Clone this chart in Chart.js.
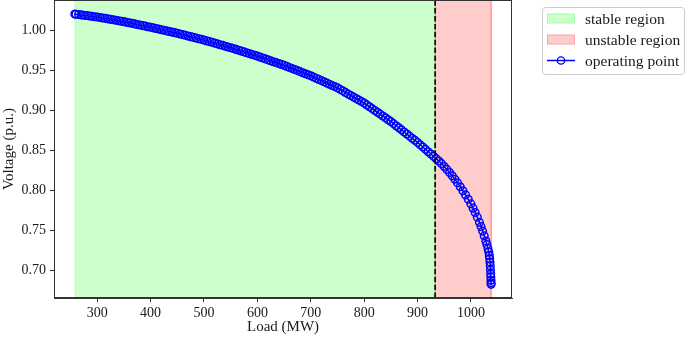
<!DOCTYPE html>
<html>
<head>
<meta charset="utf-8">
<script src="https://cdn.jsdelivr.net/npm/chart.js@4.4.1/dist/chart.umd.min.js"></script>
<style>
body { margin: 0; background: #fff; }
#wrap { width: 685px; height: 341px; }
</style>
</head>
<body>
<div id="wrap"><canvas id="myChart" width="685" height="341"></canvas></div>
<script>
// operating points (load in MW, voltage in p.u.)
const loads = [
  258, 260, 265, 270, 275, 280, 285, 290, 295, 300,
  305, 310, 315, 320, 325, 330, 335, 340, 345, 350,
  355, 360, 365, 370, 375, 380, 385, 390, 395, 400,
  405, 410, 415, 420, 425, 430, 435, 440, 445, 450,
  455, 460, 465, 470, 475, 480, 485, 490, 495, 500,
  505, 510, 515, 520, 525, 530, 535, 540, 545, 550,
  555, 560, 565, 570, 575, 580, 585, 590, 595, 600,
  605, 610, 615, 620, 625, 630, 635, 640, 645, 650,
  655, 660, 665, 670, 675, 680, 685, 690, 695, 700,
  705, 710, 715, 720, 725, 730, 735, 740, 745, 750,
  755, 760, 765, 770, 775, 780, 785, 790, 795, 800,
  805, 810, 815, 820, 825, 830, 835, 840, 845, 850,
  855, 860, 865, 870, 875, 880, 885, 890, 895, 900,
  905, 910, 915, 920, 925, 930, 935, 940, 945, 950,
  955, 960, 965, 970, 975, 980, 985, 990, 995, 1000,
  1004, 1008, 1012, 1016, 1019, 1022, 1025, 1028, 1030, 1032,
  1033.5, 1034.5, 1035.2, 1035.8, 1036.3, 1036.7, 1037.1, 1037.4, 1037.6, 1037.8,
  1037.9
];
const voltages = [
  1.0200, 1.0198, 1.0194, 1.0189, 1.0185, 1.0181, 1.0176, 1.0172, 1.0167, 1.0163,
  1.0157, 1.0151, 1.0146, 1.0140, 1.0134, 1.0128, 1.0122, 1.0117, 1.0111, 1.0105,
  1.0098, 1.0091, 1.0084, 1.0077, 1.0070, 1.0063, 1.0056, 1.0049, 1.0042, 1.0035,
  1.0028, 1.0020, 1.0013, 1.0005, 0.9998, 0.9990, 0.9983, 0.9975, 0.9968, 0.9960,
  0.9952, 0.9943, 0.9935, 0.9926, 0.9918, 0.9909, 0.9901, 0.9892, 0.9884, 0.9875,
  0.9866, 0.9856, 0.9847, 0.9837, 0.9828, 0.9818, 0.9809, 0.9799, 0.9790, 0.9780,
  0.9770, 0.9759, 0.9749, 0.9738, 0.9728, 0.9717, 0.9707, 0.9696, 0.9686, 0.9675,
  0.9664, 0.9652, 0.9641, 0.9629, 0.9618, 0.9606, 0.9595, 0.9583, 0.9572, 0.9560,
  0.9547, 0.9534, 0.9521, 0.9508, 0.9495, 0.9482, 0.9469, 0.9456, 0.9443, 0.9430,
  0.9415, 0.9400, 0.9385, 0.9370, 0.9355, 0.9340, 0.9325, 0.9310, 0.9295, 0.9280,
  0.9261, 0.9242, 0.9223, 0.9204, 0.9185, 0.9166, 0.9147, 0.9128, 0.9109, 0.9090,
  0.9067, 0.9044, 0.9021, 0.8998, 0.8975, 0.8952, 0.8929, 0.8906, 0.8883, 0.8860,
  0.8834, 0.8808, 0.8782, 0.8756, 0.8730, 0.8704, 0.8678, 0.8652, 0.8626, 0.8600,
  0.8571, 0.8542, 0.8513, 0.8484, 0.8455, 0.8426, 0.8397, 0.8367, 0.8335, 0.8300,
  0.8263, 0.8225, 0.8183, 0.8140, 0.8095, 0.8047, 0.7997, 0.7945, 0.7890, 0.7833,
  0.7780, 0.7726, 0.7668, 0.7603, 0.7550, 0.7494, 0.7434, 0.7370, 0.7325, 0.7275,
  0.7232, 0.7190, 0.7150, 0.7105, 0.7060, 0.7010, 0.6960, 0.6920, 0.6880, 0.6850,
  0.6830
];

const stableRange = [258, 933];
const unstableRange = [933, 1038];
const criticalLoad = 933;

const xLimits = [219, 1077];
const yLimits = [0.666, 1.0375];
const xTicks = [300, 400, 500, 600, 700, 800, 900, 1000];
const yTicks = [0.70, 0.75, 0.80, 0.85, 0.90, 0.95, 1.00];

const seriesLabels = ['stable region', 'unstable region', 'operating point'];

const FONT = '"Liberation Serif", "Times New Roman", serif';
const GREEN = 'rgba(0,255,0,0.2)';
const RED = 'rgba(255,0,0,0.2)';
const BLUE = '#0000ff';
const AXIS = '#333333';

Chart.defaults.font.family = FONT;
Chart.defaults.font.size = 14;
Chart.defaults.color = '#1a1a1a';

// a vertical band spanning the whole y range
function band(range) {
  return [
    { x: range[0], y: yLimits[0] },
    { x: range[0], y: yLimits[1] },
    { x: range[1], y: yLimits[1] },
    { x: range[1], y: yLimits[0] }
  ];
}

const points = loads.map((x, i) => ({ x: x, y: voltages[i] }));

// box around the plot area (matplotlib style spines)
const frame = {
  id: 'frame',
  afterDatasetsDraw(chart) {
    const a = chart.chartArea;
    const ctx = chart.ctx;
    ctx.save();
    ctx.strokeStyle = AXIS;
    ctx.lineWidth = 1;
    ctx.strokeRect(a.left + 0.5, a.top + 0.5, a.right - a.left - 1, a.bottom - a.top - 1);
    ctx.restore();
  }
};

// legend box drawn to the right of the axes
const boxLegend = {
  id: 'boxLegend',
  afterDraw(chart) {
    const ctx = chart.ctx;
    const bx = 542, by = 7, bw = 142, bh = 67;
    ctx.save();
    ctx.beginPath();
    ctx.roundRect(bx + 0.5, by + 0.5, bw, bh, 3);
    ctx.fillStyle = 'rgba(255,255,255,0.8)';
    ctx.fill();
    ctx.strokeStyle = '#cccccc';
    ctx.lineWidth = 1;
    ctx.stroke();

    const rows = [18.5, 39.5, 60.5];
    const sx = 547, sw = 28;
    ctx.font = '15.5px ' + FONT;
    ctx.textBaseline = 'middle';
    seriesLabels.forEach((label, i) => {
      const yc = rows[i];
      if (i < 2) {
        ctx.fillStyle = i === 0 ? GREEN : RED;
        ctx.fillRect(sx, yc - 5, sw, 10);
        ctx.strokeStyle = i === 0 ? GREEN : RED;
        ctx.strokeRect(sx + 0.5, yc - 4.5, sw - 1, 9);
      } else {
        ctx.strokeStyle = BLUE;
        ctx.lineWidth = 1.5;
        ctx.beginPath();
        ctx.moveTo(sx, yc);
        ctx.lineTo(sx + sw, yc);
        ctx.stroke();
        ctx.lineWidth = 1.3;
        ctx.beginPath();
        ctx.arc(sx + sw / 2, yc, 3.7, 0, Math.PI * 2);
        ctx.stroke();
      }
      ctx.fillStyle = '#1a1a1a';
      ctx.fillText(label, 585, yc + 1);
    });
    ctx.restore();
  }
};

function noEdgePadding(s) {
  s.paddingTop = 0;
  s.paddingBottom = 0;
  s.paddingLeft = 0;
  s.paddingRight = 0;
}

new Chart(document.getElementById('myChart'), {
  type: 'scatter',
  data: {
    datasets: [
      {
        label: 'critical load',
        data: [{ x: criticalLoad, y: yLimits[0] }, { x: criticalLoad, y: yLimits[1] }],
        showLine: true,
        borderColor: '#000000',
        borderWidth: 1.6,
        borderDash: [5.5, 2.4],
        pointRadius: 0,
        order: 0
      },
      {
        label: seriesLabels[2],
        data: points,
        showLine: true,
        borderColor: BLUE,
        borderWidth: 1.5,
        pointStyle: 'circle',
        pointRadius: 3.8,
        pointBorderWidth: 1.5,
        pointBorderColor: BLUE,
        pointBackgroundColor: 'rgba(0,0,0,0)',
        order: 1
      },
      {
        label: seriesLabels[1],
        data: band(unstableRange),
        showLine: true,
        fill: 'start',
        backgroundColor: RED,
        borderColor: RED,
        borderWidth: 1,
        pointRadius: 0,
        order: 2
      },
      {
        label: seriesLabels[0],
        data: band(stableRange),
        showLine: true,
        fill: 'start',
        backgroundColor: GREEN,
        borderColor: GREEN,
        borderWidth: 1,
        pointRadius: 0,
        order: 3
      }
    ]
  },
  options: {
    responsive: false,
    animation: false,
    layout: { autoPadding: false, padding: { top: 0, right: 173, left: 0, bottom: 0 } },
    plugins: {
      legend: { display: false },
      tooltip: { enabled: false }
    },
    scales: {
      x: {
        type: 'linear',
        min: xLimits[0],
        max: xLimits[1],
        afterBuildTicks: s => { s.ticks = xTicks.map(v => ({ value: v })); },
        afterFit: s => { s.height = 43; noEdgePadding(s); },
        ticks: { padding: 3, maxRotation: 0, autoSkip: false, callback: v => String(v) },
        grid: { drawOnChartArea: false, drawTicks: true, tickLength: 4, color: AXIS, tickWidth: 1 },
        border: { display: true, color: AXIS, width: 1 },
        title: { display: true, text: 'Load (MW)', font: { size: 15 }, padding: { top: 0, bottom: 5 } }
      },
      y: {
        type: 'linear',
        min: yLimits[0],
        max: yLimits[1],
        afterBuildTicks: s => { s.ticks = yTicks.map(v => ({ value: v })); },
        afterFit: s => { s.width = 54; noEdgePadding(s); },
        ticks: { padding: 4, autoSkip: false, callback: v => v.toFixed(2) },
        grid: { drawOnChartArea: false, drawTicks: true, tickLength: 4, color: AXIS, tickWidth: 1 },
        border: { display: true, color: AXIS, width: 1 },
        title: { display: true, text: 'Voltage (p.u.)', font: { size: 15 }, padding: { top: 0, bottom: 0 } }
      }
    }
  },
  plugins: [frame, boxLegend]
});
</script>
</body>
</html>
